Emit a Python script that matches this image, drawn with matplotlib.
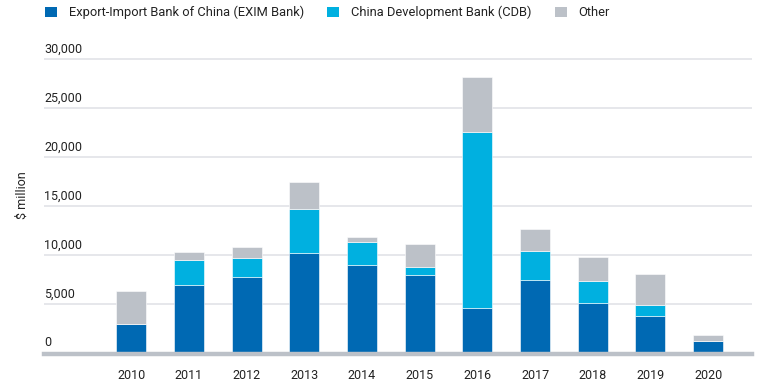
import numpy as np
import matplotlib.pyplot as plt
from matplotlib.patches import Rectangle

plt.rcParams['font.family'] = ['Roboto', 'DejaVu Sans']

# data ($ million)
years = ["2010", "2011", "2012", "2013", "2014", "2015",
         "2016", "2017", "2018", "2019", "2020"]
exim = [3000, 6950, 7850, 10250, 9000, 8000, 4650, 7450, 5150, 3850, 1300]
cdb = [0, 2550, 1850, 4450, 2400, 850, 17950, 3050, 2200, 1050, 0]
other = [3400, 850, 1200, 2750, 500, 2300, 5600, 2150, 2450, 3250, 550]

series_names = ["Export-Import Bank of China (EXIM Bank)",
                "China Development Bank (CDB)",
                "Other"]
colors = ["#0069B3", "#00B0E0", "#BCC1C8"]

y_ticks = [0, 5000, 10000, 15000, 20000, 25000, 30000]
y_labels = ["0", "5,000", "10,000", "15,000", "20,000", "25,000", "30,000"]

W, H = 764, 384
fig = plt.figure(figsize=(W / 100, H / 100), dpi=100)

# axes placement in pixels
left_px, right_px = 44, 752
zero_px = 353.5
ymax = 30500
px_per_unit = (353.5 - 59.3) / 30000
top_px = zero_px - ymax * px_per_unit
ax = fig.add_axes([left_px / W, (H - zero_px) / H,
                   (right_px - left_px) / W, (zero_px - top_px) / H])

x = np.arange(len(years))
bw = 0.52
exim_a = np.array(exim)
cdb_a = np.array(cdb)
other_a = np.array(other)

ax.bar(x, exim_a, bw, color=colors[0], edgecolor="white", linewidth=0.4, zorder=3)
ax.bar(x, cdb_a, bw, bottom=exim_a, color=colors[1], edgecolor="white",
       linewidth=0.4, zorder=3)
ax.bar(x, other_a, bw, bottom=exim_a + cdb_a, color=colors[2],
       edgecolor="white", linewidth=0.4, zorder=3)

ax.set_xlim(-1.51, 10.76)
ax.set_ylim(0, ymax)

# gridlines
for v in y_ticks[1:]:
    ax.axhline(v, color="#E1E3E7", linewidth=1.2, zorder=1)
ax.axhline(0, color="#BCC1C8", linewidth=3.2, zorder=4, clip_on=False)

# y labels sitting above gridlines
ax.set_yticks([])
for v, lab in zip(y_ticks, y_labels):
    ax.annotate(lab, xy=(0, v), xycoords=ax.get_yaxis_transform(),
                xytext=(0, 4), textcoords="offset pixels",
                ha="left", va="bottom", fontsize=9, color="#222222")

ax.set_xticks(x)
ax.set_xticklabels(years, fontsize=9, color="#222222")
ax.tick_params(axis="x", length=0, pad=11)

for s in ax.spines.values():
    s.set_visible(False)

fig.text(22 / W, 1 - 195 / H, "$ million", rotation=90, ha="center",
         va="center", fontsize=9, color="#222222")

# legend row, laid out by hand to match the original spacing
swatch_x = [44.5, 327, 554.5]
text_x = [69, 351, 578.5]
for sx, tx, c, name in zip(swatch_x, text_x, colors, series_names):
    fig.add_artist(Rectangle((sx / W, 1 - 17 / H), 12 / W, 10 / H,
                             transform=fig.transFigure, facecolor=c,
                             edgecolor="none"))
    fig.text(tx / W, 1 - 12 / H, name, ha="left", va="center",
             fontsize=9.3, color="#222222")

fig.savefig("out.png", dpi=100)
